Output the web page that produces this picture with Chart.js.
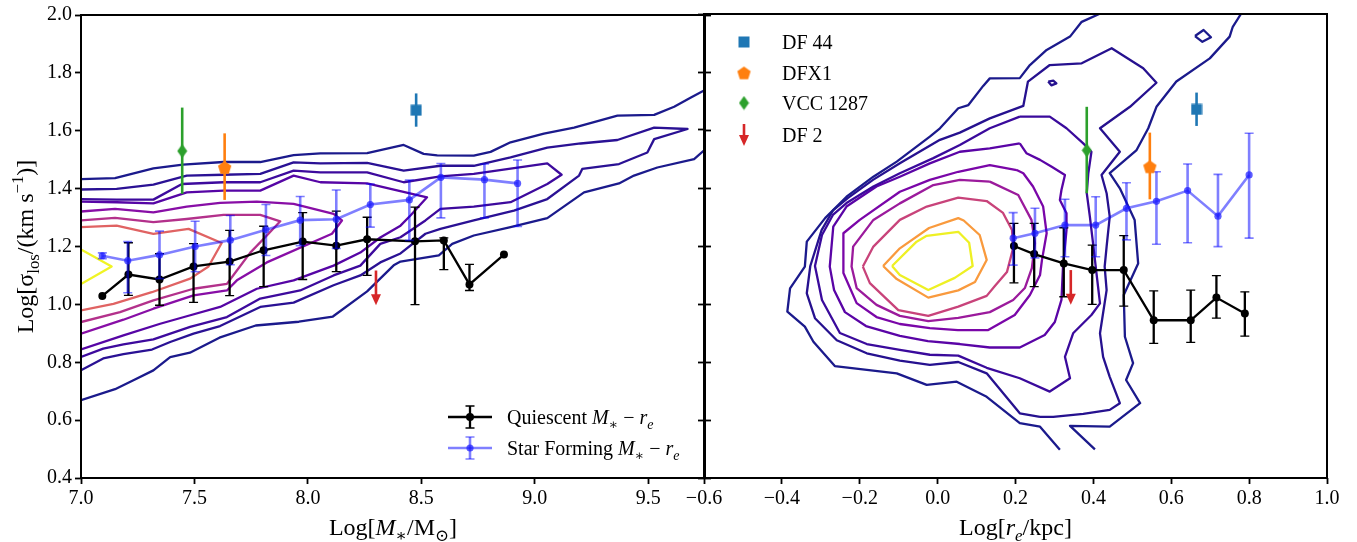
<!DOCTYPE html>
<html>
<head>
<meta charset="utf-8">
<title>Velocity dispersion vs stellar mass and size</title>
<script src="https://cdn.jsdelivr.net/npm/chart.js@4.4.1/dist/chart.umd.min.js"></script>
<style>
  html, body { margin:0; padding:0; background:#ffffff; }
  #stage { position:relative; width:1357px; height:542px; overflow:hidden; background:#fff; }
  #stage canvas { position:absolute; left:0; top:0; }
</style>
</head>
<body>
<div id="stage">
  <canvas id="massChart" width="1357" height="542"></canvas>
  <canvas id="reChart" width="1357" height="542"></canvas>
</div>
<script>
// ---------------- tick values ----------------
const sigmaTicks = [0.4, 0.6, 0.8, 1.0, 1.2, 1.4, 1.6, 1.8, 2.0];
const massTicks  = [7.0, 7.5, 8.0, 8.5, 9.0, 9.5];
const reTicks    = [-0.6, -0.4, -0.2, 0.0, 0.2, 0.4, 0.6, 0.8, 1.0];

// ---------------- binned medians : left panel (stellar mass) ----------------
const qMass          = [7.094, 7.209, 7.346, 7.496, 7.655, 7.805, 7.977, 8.125, 8.261, 8.472, 8.599, 8.712, 8.864];
const qMassSigma     = [1.029, 1.103, 1.086, 1.131, 1.148, 1.187, 1.217, 1.203, 1.225, 1.218, 1.221, 1.069, 1.172];
const qMassSigmaLo   = [null, 1.031, 0.997, 1.007, 1.030, 1.061, 1.086, 1.113, 1.100, 0.999, 1.120, 1.048, null];
const qMassSigmaHi   = [null, 1.213, 1.175, 1.210, 1.256, 1.270, 1.317, 1.322, 1.301, 1.336, 1.230, 1.138, null];

const sfMass         = [7.094, 7.206, 7.346, 7.503, 7.658, 7.815, 7.966, 8.125, 8.275, 8.447, 8.586, 8.778, 8.924];
const sfMassSigma    = [1.168, 1.151, 1.171, 1.200, 1.222, 1.258, 1.291, 1.294, 1.345, 1.361, 1.439, 1.431, 1.418];
const sfMassSigmaLo  = [1.158, 1.040, 1.089, 1.113, 1.137, 1.169, 1.203, 1.193, 1.267, 1.221, 1.299, 1.299, 1.269];
const sfMassSigmaHi  = [1.178, 1.217, 1.253, 1.287, 1.307, 1.345, 1.373, 1.395, 1.416, 1.430, 1.487, 1.485, 1.499];

// ---------------- binned medians : right panel (effective radius) ----------------
const qRe            = [0.196, 0.248, 0.324, 0.397, 0.478, 0.555, 0.650, 0.716, 0.789];
const qReSigma       = [1.200, 1.172, 1.140, 1.117, 1.117, 0.944, 0.944, 1.022, 0.967];
const qReSigmaLo     = [1.073, 1.060, 1.025, 0.999, 0.993, 0.864, 0.868, 0.951, 0.889];
const qReSigmaHi     = [1.278, 1.278, 1.263, 1.203, 1.236, 1.045, 1.048, 1.098, 1.042];

const sfRe           = [0.194, 0.250, 0.327, 0.406, 0.485, 0.562, 0.642, 0.720, 0.800];
const sfReSigma      = [1.227, 1.244, 1.272, 1.272, 1.330, 1.354, 1.391, 1.303, 1.445];
const sfReSigmaLo    = [1.134, 1.159, 1.163, 1.163, 1.221, 1.206, 1.211, 1.198, 1.227];
const sfReSigmaHi    = [1.315, 1.330, 1.361, 1.370, 1.418, 1.456, 1.483, 1.447, 1.589];

// ---------------- individual galaxies ----------------
const galaxyNames    = ['DF 44', 'DFX1', 'VCC 1287', 'DF 2'];
const galaxyMass     = [8.477, 7.633, 7.446, 8.300];
const galaxyRe       = [0.665, 0.545, 0.383, 0.342];
const galaxySigma    = [1.671, 1.473, 1.530, 1.117];
const galaxySigmaLo  = [1.614, 1.361, 1.382, null];
const galaxySigmaHi  = [1.729, 1.591, 1.680, null];

// ---------------- density contours : left panel ----------------
const massContour1 = [[7.000,1.433],[7.150,1.436],[7.319,1.470],[7.449,1.483],[7.628,1.492],[7.790,1.492],[7.937,1.516],[8.055,1.522],[8.261,1.523],[8.422,1.551],[8.510,1.520],[8.570,1.515],[8.731,1.514],[8.805,1.527],[8.893,1.560],[9.040,1.590],[9.173,1.611],[9.364,1.652],[9.526,1.655],[9.614,1.683],[9.688,1.715],[9.750,1.741],null,
  [9.750,1.535],[9.702,1.502],[9.540,1.473],[9.437,1.445],[9.371,1.418],[9.217,1.387],[9.055,1.298],[8.893,1.267],[8.731,1.238],[8.636,1.209],[8.577,1.169],[8.408,1.148],[8.378,1.135],[8.261,1.045],[8.110,0.958],[7.960,0.940],[7.770,0.927],[7.610,0.885],[7.480,0.833],[7.393,0.818],[7.319,0.772],[7.231,0.738],[7.150,0.707],[7.000,0.669]];
const massContour2 = [[7.000,1.397],[7.157,1.399],[7.319,1.414],[7.466,1.445],[7.628,1.448],[7.790,1.451],[7.937,1.491],[8.055,1.487],[8.261,1.489],[8.422,1.462],[8.584,1.479],[8.731,1.479],[8.893,1.508],[9.055,1.542],[9.202,1.556],[9.364,1.568],[9.526,1.611],[9.673,1.606],
  [9.526,1.571],[9.496,1.525],[9.371,1.485],[9.209,1.468],[9.195,1.445],[9.055,1.364],[8.908,1.324],[8.731,1.290],[8.584,1.261],[8.518,1.244],[8.408,1.176],[8.319,1.145],[8.231,1.100],[8.113,1.066],[7.937,1.006],[7.790,0.991],[7.613,0.925],[7.496,0.899],[7.393,0.870],[7.313,0.844],[7.187,0.828],[7.098,0.813],[7.000,0.772]];
const massContour3 = [[7.000,1.364],[7.158,1.362],[7.319,1.362],[7.445,1.416],[7.628,1.422],[7.790,1.422],[7.937,1.462],[8.055,1.456],[8.261,1.456],[8.422,1.422],[8.584,1.442],[8.731,1.451],[9.055,1.487],[9.118,1.448],
  [9.055,1.416],[8.893,1.353],[8.731,1.338],[8.584,1.330],[8.518,1.290],[8.408,1.232],[8.319,1.209],[8.231,1.134],[8.113,1.100],[7.966,1.048],[7.790,1.020],[7.643,0.956],[7.481,0.922],[7.319,0.879],[7.187,0.862],[7.098,0.847],[7.000,0.818]];
const massContour4 = [[7.000,1.355],[7.158,1.353],[7.319,1.349],[7.466,1.387],[7.628,1.393],[7.790,1.393],[7.937,1.445],[8.055,1.422],[8.261,1.418],[8.525,1.370],
  [8.452,1.307],[8.408,1.272],[8.319,1.231],[8.231,1.179],[8.113,1.134],[7.937,1.083],[7.775,1.054],[7.613,0.991],[7.466,0.959],[7.349,0.933],[7.187,0.893],[7.000,0.844]];
const massContour5 = [[7.000,1.321],[7.150,1.330],[7.319,1.318],[7.466,1.338],[7.613,1.351],[7.775,1.355],[7.937,1.347],[8.113,1.313],[8.150,1.290],
  [8.106,1.244],[7.819,1.145],[7.687,1.083],[7.643,1.048],[7.496,1.031],[7.319,0.985],[7.187,0.947],[7.000,0.899]];
const massContour6 = [[7.000,1.290],[7.150,1.299],[7.319,1.284],[7.466,1.295],[7.628,1.309],[7.790,1.309],[7.878,1.287],
  [7.819,1.238],[7.746,1.179],[7.687,1.117],[7.643,1.071],[7.496,1.054],[7.319,1.014],[7.172,0.973],[7.000,0.939]];
const massContour7 = [[7.000,1.267],[7.157,1.272],[7.319,1.244],[7.474,1.261],[7.620,1.212],
  [7.562,1.131],[7.481,1.089],[7.312,1.042],[7.143,1.002],[7.000,0.979]];
const massContour8 = [[7.000,1.190],[7.135,1.131],[7.000,1.070]];

// ---------------- density contours : right panel ----------------
const reContour1a = [[0.415,2.000],[0.370,1.973],[0.340,1.922],[0.280,1.876],[0.237,1.824],[0.211,1.779],[0.134,1.778],[0.117,1.752],[0.079,1.686],[0.053,1.675],[0.006,1.606],[-0.020,1.577],[-0.105,1.491],[-0.165,1.439],[-0.234,1.370],[-0.289,1.296],[-0.336,1.215],[-0.341,1.129],[-0.379,1.054],[-0.386,0.974],[-0.341,0.922],[-0.319,0.870],[-0.264,0.786],[-0.105,0.761],[-0.028,0.721],[0.049,0.732],[0.126,0.680],[0.211,0.589],[0.263,0.577],[0.314,0.497]];
const reContour1b = [[0.779,2.000],[0.758,1.956],[0.750,1.922],[0.699,1.847],[0.613,1.767],[0.562,1.680],[0.541,1.606],[0.511,1.531],[0.442,1.451],[0.468,1.399],[0.506,1.290],[0.515,1.140],[0.478,1.031],[0.481,0.887],[0.502,0.796],[0.484,0.738],[0.520,0.658],[0.442,0.577],[0.340,0.580],[0.404,0.499]];
const reContour1c = [[0.661,1.924],[0.683,1.945],[0.702,1.920],[0.680,1.904],[0.661,1.924]];
const reContour2 = [[0.263,0.611],[0.211,0.623],[0.126,0.761],[0.053,0.800],[-0.020,0.790],[-0.097,0.805],[-0.182,0.830],[-0.259,0.875],[-0.315,0.951],[-0.336,1.037],[-0.327,1.131],[-0.298,1.255],[-0.268,1.324],[-0.230,1.366],[-0.166,1.428],[-0.097,1.485],[0.006,1.566],[0.057,1.591],[0.134,1.640],[0.220,1.683],[0.232,1.767],[0.288,1.824],[0.370,1.830],[0.447,1.882],[0.528,1.813],[0.562,1.763],[0.494,1.680],[0.417,1.606],[0.468,1.525],[0.421,1.445],[0.434,1.382],[0.442,1.301],[0.434,1.198],[0.429,1.129],[0.434,1.048],[0.417,0.899],[0.425,0.818],[0.442,0.749],[0.468,0.658],[0.442,0.635],[0.374,0.621],[0.297,0.611],[0.263,0.611]];
const reContour2b = [[0.284,1.767],[0.297,1.770],[0.305,1.761],[0.292,1.754],[0.284,1.767]];
const reContour3 = [[0.211,1.646],[0.288,1.646],[0.331,1.606],[0.374,1.554],[0.395,1.525],[0.387,1.451],[0.383,1.382],[0.391,1.301],[0.399,1.211],[0.408,1.106],[0.417,1.002],[0.395,0.962],[0.348,0.899],[0.327,0.818],[0.340,0.744],[0.288,0.698],[0.211,0.744],[0.126,0.780],[0.053,0.822],[-0.020,0.825],[-0.097,0.842],[-0.182,0.862],[-0.251,0.900],[-0.297,1.014],[-0.315,1.131],[-0.297,1.238],[-0.269,1.307],[-0.234,1.348],[-0.165,1.405],[-0.097,1.451],[-0.011,1.503],[0.057,1.548],[0.134,1.606],[0.211,1.646]];
const reContour4 = [[0.211,1.554],[0.228,1.520],[0.263,1.497],[0.293,1.473],[0.327,1.445],[0.318,1.393],[0.314,1.359],[0.331,1.313],[0.331,1.255],[0.322,1.129],[0.318,1.014],[0.301,0.938],[0.275,0.893],[0.211,0.850],[0.134,0.850],[0.057,0.862],[-0.025,0.872],[-0.097,0.890],[-0.184,0.924],[-0.238,0.972],[-0.266,1.048],[-0.277,1.129],[-0.268,1.267],[-0.234,1.336],[-0.157,1.405],[-0.097,1.439],[-0.020,1.485],[0.057,1.525],[0.134,1.537],[0.211,1.554]];
const reContour5 = [[0.203,1.462],[0.220,1.451],[0.245,1.405],[0.271,1.336],[0.280,1.244],[0.268,1.152],[0.263,1.100],[0.237,1.031],[0.198,0.962],[0.130,0.910],[0.052,0.910],[-0.020,0.917],[-0.097,0.931],[-0.157,0.955],[-0.208,1.003],[-0.242,1.107],[-0.242,1.244],[-0.200,1.290],[-0.097,1.387],[-0.020,1.428],[0.053,1.456],[0.134,1.479],[0.203,1.462]];
const reContour6 = [[0.134,1.422],[0.207,1.376],[0.241,1.290],[0.250,1.210],[0.242,1.124],[0.224,1.055],[0.194,1.014],[0.134,0.972],[0.053,0.952],[-0.024,0.941],[-0.097,0.959],[-0.157,0.997],[-0.208,1.055],[-0.221,1.129],[-0.217,1.198],[-0.165,1.290],[-0.097,1.347],[-0.011,1.410],[0.057,1.428],[0.134,1.422]];
const reContour7 = [[-0.192,1.129],[-0.165,1.198],[-0.097,1.290],[-0.028,1.336],[0.053,1.367],[0.126,1.355],[0.168,1.314],[0.191,1.255],[0.194,1.193],[0.178,1.110],[0.147,1.062],[0.126,1.028],[0.053,0.991],[-0.024,0.959],[-0.101,0.979],[-0.174,1.072],[-0.192,1.129]];
const reContour8 = [[-0.140,1.131],[-0.097,1.192],[-0.022,1.262],[0.053,1.296],[0.067,1.288],[0.108,1.238],[0.126,1.152],[0.096,1.076],[0.053,1.047],[-0.024,1.022],[-0.105,1.086],[-0.140,1.131]];
const reContour9 = [[-0.117,1.131],[-0.054,1.215],[-0.028,1.235],[0.053,1.249],[0.081,1.211],[0.090,1.131],[0.044,1.090],[-0.024,1.048],[-0.097,1.100],[-0.117,1.131]];

// ---------------- styling ----------------
const FONT = "'Liberation Serif','DejaVu Serif','Times New Roman',serif";
const massLevelColors = ['#1b1a8c', '#2a1194', '#3d0a9d', '#5605a5', '#880ea6', '#b3318b', '#e06363', '#f0f424'];
const reLevelColors   = ['#1b1a8c', '#26118f', '#3a0a9c', '#5a04a6', '#7a06a8', '#9b1a9c', '#c8437a', '#f99a3d', '#eef024'];
const Q_COLOR  = '#000000';
const SF_LINE  = 'rgba(0,0,255,0.5)';
const SF_POINT = 'rgba(30,30,255,0.72)';
const galaxyColors = ['#1f77b4', '#ff7f0e', '#2ca02c', '#d62728'];
const TITLE_SIZE = 24;

Chart.defaults.font.family = FONT;

function pts(arr) { return arr.map(p => p ? { x: p[0], y: p[1] } : { x: null, y: null }); }
function zip(xs, ys) { return xs.map((x, i) => ({ x: x, y: ys[i] })); }

// marker images
function makeMarker(kind, color) {
  const c = document.createElement('canvas');
  const g = c.getContext('2d');
  g.fillStyle = color;
  if (kind === 'square') {
    c.width = 12; c.height = 12;
    g.fillStyle = color; g.fillRect(0.5, 0.5, 11, 11);
  } else if (kind === 'pentagon') {
    c.width = 15; c.height = 15;
    g.fillStyle = color; g.beginPath();
    for (let k = 0; k < 5; k++) {
      const a = -Math.PI / 2 + k * 2 * Math.PI / 5;
      const px = 7.5 + 7 * Math.cos(a), py = 8 + 7 * Math.sin(a);
      if (k === 0) g.moveTo(px, py); else g.lineTo(px, py);
    }
    g.closePath(); g.fill();
  } else if (kind === 'diamond') {
    c.width = 11; c.height = 15;
    g.fillStyle = color; g.beginPath();
    g.moveTo(5.5, 0.5); g.lineTo(10.5, 7.5); g.lineTo(5.5, 14.5); g.lineTo(0.5, 7.5);
    g.closePath(); g.fill();
  }
  return c;
}
const galaxyMarkers = [makeMarker('square', galaxyColors[0]), makeMarker('pentagon', galaxyColors[1]), makeMarker('diamond', galaxyColors[2]), null];

function contourDataset(arr, color, lw) {
  return { type: 'scatter', data: pts(arr), showLine: true, borderColor: color, backgroundColor: color,
           borderWidth: lw || 2.3, pointRadius: 0, pointHoverRadius: 0, fill: false, tension: 0,
           spanGaps: false, order: 10, borderJoinStyle: 'round' };
}

function medianDatasets(label, xs, ys, lo, hi, isQ) {
  return {
    type: 'scatter', label: label, data: zip(xs, ys), showLine: true,
    borderColor: isQ ? Q_COLOR : SF_LINE, borderWidth: isQ ? 2.3 : 2.6,
    pointRadius: isQ ? 4 : 3.6, pointBackgroundColor: isQ ? Q_COLOR : SF_POINT,
    pointBorderColor: isQ ? Q_COLOR : SF_POINT, pointBorderWidth: 0,
    order: isQ ? 4 : 3, tension: 0,
    errLo: lo, errHi: hi, errColor: isQ ? Q_COLOR : SF_LINE, errWidth: isQ ? 2.3 : 2.6,
    capHalf: 4.5, capWidth: isQ ? 1.3 : 1.6
  };
}

function galaxyDatasets(xVals) {
  return galaxyNames.map((name, i) => {
    const isLimit = galaxySigmaLo[i] == null;
    return {
      type: 'scatter', label: name, data: [{ x: xVals[i], y: galaxySigma[i] }],
      pointStyle: isLimit ? 'circle' : galaxyMarkers[i], pointRadius: isLimit ? 0 : 7,
      backgroundColor: galaxyColors[i], borderColor: galaxyColors[i], order: 1,
      errLo: isLimit ? null : [galaxySigmaLo[i]], errHi: isLimit ? null : [galaxySigmaHi[i]],
      errColor: galaxyColors[i], errWidth: 2.6, capHalf: 0,
      upperLimit: isLimit, limitLength: 0.12
    };
  });
}

// rich text (italic / sub / superscript)
function fontStr(size, italic) { return (italic ? 'italic ' : '') + size + 'px ' + FONT; }
function drawRich(ctx, parts, x, y, size, align) {
  let total = 0;
  const items = parts.map(p => {
    const s = (p.sub || p.sup) ? size * 0.7 : size;
    ctx.font = fontStr(s, p.it);
    const w = ctx.measureText(p.t).width;
    total += w;
    return { p: p, s: s, w: w };
  });
  let cx = align === 'center' ? x - total / 2 : x;
  ctx.textAlign = 'left'; ctx.textBaseline = 'alphabetic';
  items.forEach(it => {
    ctx.font = fontStr(it.s, it.p.it);
    const dy = it.p.sub ? size * 0.24 : (it.p.sup ? -size * 0.40 : 0);
    ctx.fillText(it.p.t, cx, y + dy);
    cx += it.w;
  });
}

const massTitle  = [{ t: 'Log[' }, { t: 'M', it: 1 }, { t: '\u2217', sub: 1 }, { t: '/M' }, { t: '\u2299', sub: 1 }, { t: ']' }];
const reTitle    = [{ t: 'Log[' }, { t: 'r', it: 1 }, { t: 'e', it: 1, sub: 1 }, { t: '/kpc]' }];
const sigmaTitle = [{ t: 'Log[\u03c3' }, { t: 'los', sub: 1 }, { t: '/(km s' }, { t: '\u22121', sup: 1 }, { t: ')]' }];
const qLegend    = [{ t: 'Quiescent ' }, { t: 'M', it: 1 }, { t: '\u2217', sub: 1 }, { t: ' \u2212 ' }, { t: 'r', it: 1 }, { t: 'e', it: 1, sub: 1 }];
const sfLegend   = [{ t: 'Star Forming ' }, { t: 'M', it: 1 }, { t: '\u2217', sub: 1 }, { t: ' \u2212 ' }, { t: 'r', it: 1 }, { t: 'e', it: 1, sub: 1 }];

function drawArrow(ctx, x, y1, y2, color) {
  ctx.save();
  ctx.strokeStyle = color; ctx.fillStyle = color; ctx.lineWidth = 2.6;
  ctx.beginPath(); ctx.moveTo(x, y1); ctx.lineTo(x, y2 - 9); ctx.stroke();
  ctx.beginPath(); ctx.moveTo(x - 5, y2 - 11); ctx.lineTo(x + 5, y2 - 11); ctx.lineTo(x, y2); ctx.closePath(); ctx.fill();
  ctx.restore();
}

function drawErrHandle(ctx, x, y, lineColor, pointColor, isQ) {
  ctx.save();
  ctx.strokeStyle = lineColor; ctx.lineWidth = isQ ? 2.3 : 2.6;
  ctx.beginPath(); ctx.moveTo(x - 22, y); ctx.lineTo(x + 22, y); ctx.stroke();
  ctx.beginPath(); ctx.moveTo(x, y - 11); ctx.lineTo(x, y + 11); ctx.stroke();
  ctx.lineWidth = isQ ? 1.3 : 1.6;
  ctx.beginPath(); ctx.moveTo(x - 4.5, y - 11); ctx.lineTo(x + 4.5, y - 11); ctx.moveTo(x - 4.5, y + 11); ctx.lineTo(x + 4.5, y + 11); ctx.stroke();
  ctx.fillStyle = pointColor; ctx.beginPath(); ctx.arc(x, y, isQ ? 4 : 3.6, 0, Math.PI * 2); ctx.fill();
  ctx.restore();
}

const annotatePlugin = {
  id: 'annotate',
  beforeDatasetDraw(chart, args) {
    const ds = chart.data.datasets[args.index];
    if (!ds.errLo) return;
    const xs = chart.scales.x, ys = chart.scales.y, ctx = chart.ctx;
    ctx.save();
    const a = chart.chartArea;
    ctx.beginPath(); ctx.rect(a.left, a.top, a.right - a.left, a.bottom - a.top); ctx.clip();
    ctx.strokeStyle = ds.errColor; ctx.lineCap = 'butt';
    ds.data.forEach((p, i) => {
      const lo = ds.errLo[i], hi = ds.errHi[i];
      if (lo == null || hi == null) return;
      const px = xs.getPixelForValue(p.x), y1 = ys.getPixelForValue(lo), y2 = ys.getPixelForValue(hi);
      ctx.lineWidth = ds.errWidth;
      ctx.beginPath(); ctx.moveTo(px, y1); ctx.lineTo(px, y2); ctx.stroke();
      if (ds.capHalf) {
        ctx.lineWidth = ds.capWidth;
        ctx.beginPath();
        ctx.moveTo(px - ds.capHalf, y1); ctx.lineTo(px + ds.capHalf, y1);
        ctx.moveTo(px - ds.capHalf, y2); ctx.lineTo(px + ds.capHalf, y2);
        ctx.stroke();
      }
    });
    ctx.restore();
  },
  afterDatasetDraw(chart, args) {
    const ds = chart.data.datasets[args.index];
    if (!ds.upperLimit) return;
    const xs = chart.scales.x, ys = chart.scales.y;
    const p = ds.data[0];
    drawArrow(chart.ctx, xs.getPixelForValue(p.x), ys.getPixelForValue(p.y), ys.getPixelForValue(p.y - ds.limitLength), ds.borderColor);
  },
  afterDraw(chart, args, opts) {
    const ctx = chart.ctx, a = chart.chartArea;
    ctx.save();
    // frame
    ctx.strokeStyle = '#000'; ctx.lineWidth = 2;
    ctx.strokeRect(a.left, a.top, a.right - a.left, a.bottom - a.top);
    ctx.fillStyle = '#000';
    const cx = (a.left + a.right) / 2;
    if (opts.side === 'mass') {
      drawRich(ctx, massTitle, cx, 535, TITLE_SIZE, 'center');
      ctx.save(); ctx.translate(33, (a.top + a.bottom) / 2); ctx.rotate(-Math.PI / 2);
      drawRich(ctx, sigmaTitle, 0, 0, TITLE_SIZE, 'center'); ctx.restore();
      // legend (bottom right)
      const hx = a.left + 389, tx = a.left + 426;
      const r1 = a.bottom - 61, r2 = a.bottom - 30;
      drawErrHandle(ctx, hx, r1, Q_COLOR, Q_COLOR, true);
      drawErrHandle(ctx, hx, r2, SF_LINE, SF_POINT, false);
      ctx.fillStyle = '#000';
      drawRich(ctx, qLegend, tx, r1 + 7, 20, 'left');
      drawRich(ctx, sfLegend, tx, r2 + 7, 20, 'left');
    } else {
      drawRich(ctx, reTitle, cx, 535, TITLE_SIZE, 'center');
      // legend (top left)
      const mx = a.left + 40, tx = a.left + 78;
      const rows = [a.top + 28, a.top + 59, a.top + 89, a.top + 121];
      const gal = chart.data.datasets.filter(d => d.order === 1);
      gal.forEach((d, i) => {
        const y = rows[i];
        if (d.upperLimit) drawArrow(ctx, mx, y - 11, y + 11, d.borderColor);
        else { const m = galaxyMarkers[i]; ctx.drawImage(m, mx - m.width / 2, y - m.height / 2); }
        ctx.fillStyle = '#000'; ctx.font = fontStr(20, false);
        ctx.textAlign = 'left'; ctx.textBaseline = 'alphabetic';
        ctx.fillText(d.label, tx, y + 7);
      });
    }
    ctx.restore();
  }
};

function fmtTick(v) {
  const s = Math.abs(v).toFixed(1);
  return v < -1e-9 ? '\u2212' + s : s;
}

function axisCommon(extra) {
  return Object.assign({
    type: 'linear',
    border: { display: false },
    grid: { display: true, drawOnChartArea: false, drawTicks: true, tickLength: 6, tickWidth: 1.8, tickColor: '#000', color: '#000' },
    ticks: { color: '#000', font: { size: 20, family: FONT }, autoSkip: false, maxRotation: 0, callback: v => fmtTick(v) }
  }, extra);
}

const massDatasets = [
  contourDataset(massContour1, massLevelColors[0]),
  contourDataset(massContour2, massLevelColors[1]),
  contourDataset(massContour3, massLevelColors[2]),
  contourDataset(massContour4, massLevelColors[3]),
  contourDataset(massContour5, massLevelColors[4]),
  contourDataset(massContour6, massLevelColors[5]),
  contourDataset(massContour7, massLevelColors[6]),
  contourDataset(massContour8, massLevelColors[7]),
  medianDatasets('Quiescent M*\u2212re', qMass, qMassSigma, qMassSigmaLo, qMassSigmaHi, true),
  medianDatasets('Star Forming M*\u2212re', sfMass, sfMassSigma, sfMassSigmaLo, sfMassSigmaHi, false)
].concat(galaxyDatasets(galaxyMass));

const reDatasets = [
  contourDataset(reContour1a, reLevelColors[0]),
  contourDataset(reContour1b, reLevelColors[0]),
  contourDataset(reContour1c, reLevelColors[0]),
  contourDataset(reContour2, reLevelColors[1]),
  contourDataset(reContour2b, reLevelColors[1]),
  contourDataset(reContour3, reLevelColors[2]),
  contourDataset(reContour4, reLevelColors[3]),
  contourDataset(reContour5, reLevelColors[4]),
  contourDataset(reContour6, reLevelColors[5]),
  contourDataset(reContour7, reLevelColors[6]),
  contourDataset(reContour8, reLevelColors[7]),
  contourDataset(reContour9, reLevelColors[8]),
  medianDatasets('Quiescent M*\u2212re', qRe, qReSigma, qReSigmaLo, qReSigmaHi, true),
  medianDatasets('Star Forming M*\u2212re', sfRe, sfReSigma, sfReSigmaLo, sfReSigmaHi, false)
].concat(galaxyDatasets(galaxyRe));

const baseOptions = {
  responsive: false, animation: false, devicePixelRatio: 1, events: [],
  plugins: { legend: { display: false }, tooltip: { enabled: false }, title: { display: false } }
};

new Chart(document.getElementById('massChart'), {
  type: 'scatter',
  data: { datasets: massDatasets },
  plugins: [annotatePlugin],
  options: Object.assign({}, baseOptions, {
    layout: { padding: { left: 0, right: 652, top: 14, bottom: 0 } },
    plugins: Object.assign({}, baseOptions.plugins, { annotate: { side: 'mass' } }),
    scales: {
      x: axisCommon({ min: 7.0, max: 9.75, position: 'bottom',
        afterBuildTicks: s => { s.ticks = massTicks.map(v => ({ value: v })); },
        afterFit: s => { s.height = 64; } }),
      y: axisCommon({ min: 0.4, max: 2.0, position: 'left',
        afterBuildTicks: s => { s.ticks = sigmaTicks.map(v => ({ value: v })); },
        afterFit: s => { s.width = 81; } }),
      yRight: axisCommon({ min: 0.4, max: 2.0, position: 'right',
        afterBuildTicks: s => { s.ticks = sigmaTicks.map(v => ({ value: v })); },
        afterFit: s => { s.width = 0; },
        ticks: { display: false } })
    }
  })
});

new Chart(document.getElementById('reChart'), {
  type: 'scatter',
  data: { datasets: reDatasets },
  plugins: [annotatePlugin],
  options: Object.assign({}, baseOptions, {
    layout: { padding: { left: 704, right: 30, top: 14, bottom: 0 } },
    plugins: Object.assign({}, baseOptions.plugins, { annotate: { side: 're' } }),
    scales: {
      x: axisCommon({ min: -0.6, max: 1.0, position: 'bottom',
        afterBuildTicks: s => { s.ticks = reTicks.map(v => ({ value: v })); },
        afterFit: s => { s.height = 64; } }),
      y: axisCommon({ min: 0.4, max: 2.0, position: 'left',
        afterBuildTicks: s => { s.ticks = sigmaTicks.map(v => ({ value: v })); },
        afterFit: s => { s.width = 0; },
        ticks: { display: false } })
    }
  })
});
</script>
</body>
</html>
